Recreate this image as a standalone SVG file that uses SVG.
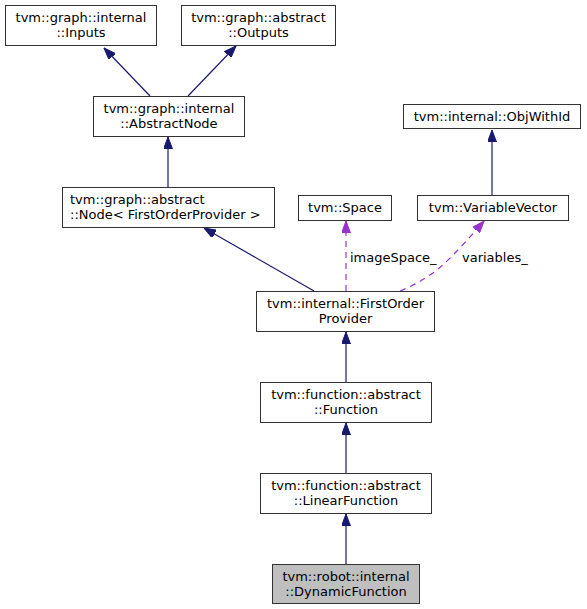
<svg xmlns="http://www.w3.org/2000/svg" width="587" height="609" viewBox="0 0 587 609">
<style>
  .box { fill: #ffffff; stroke: #333333; stroke-width: 1; }
  .cur { fill: #bfbfbf; stroke: #333333; stroke-width: 1; }
  text { font-family: "DejaVu Sans", sans-serif; font-size: 13px; fill: #000000; }
  .c { text-anchor: middle; }
  .inh { fill: none; stroke: #191970; stroke-width: 1.2; marker-end: url(#ah); }
  .use { fill: none; stroke: #9a32cd; stroke-width: 1.2; stroke-dasharray: 6,5; marker-end: url(#ahu); }
</style>
<defs>
  <marker id="ah" viewBox="0 0 12 9" refX="12" refY="4.5" markerWidth="12" markerHeight="9" markerUnits="userSpaceOnUse" orient="auto">
    <path d="M0,0 L12,4.5 L0,9 z" fill="#191970" stroke="#191970"/>
  </marker>
  <marker id="ahu" viewBox="0 0 12 9" refX="12" refY="4.5" markerWidth="12" markerHeight="9" markerUnits="userSpaceOnUse" orient="auto">
    <path d="M0,0 L12,4.5 L0,9 z" fill="#9a32cd" stroke="#9a32cd"/>
  </marker>
</defs>
<rect width="587" height="609" fill="#ffffff"/>
<g id="edges">
  <path class="inh" d="M150,96 L104,48"/>
  <path class="inh" d="M188,96 L236,46"/>
  <path class="inh" d="M168,187 L168,137"/>
  <path class="inh" d="M314,291 L204,228"/>
  <path class="use" d="M346,291 L346,221"/>
  <text x="350" y="262">imageSpace_</text>
  <path class="use" d="M400,291 C420,283 437,272 453,255 C462,246 471,236 484,221"/>
  <text x="462" y="262">variables_</text>
  <path class="inh" d="M492,195 L492,130"/>
  <path class="inh" d="M346,382 L346,332"/>
  <path class="inh" d="M346,473 L346,423"/>
  <path class="inh" d="M346,564 L346,514"/>
</g>
<g id="inputs">
  <rect class="box" x="5.5" y="5.5" width="151" height="40"/>
  <text class="c" x="81" y="21.5">tvm::graph::internal</text>
  <text class="c" x="81" y="36.5">::Inputs</text>
</g>
<g id="outputs">
  <rect class="box" x="181.5" y="5.5" width="154" height="40"/>
  <text class="c" x="258.5" y="21.5">tvm::graph::abstract</text>
  <text class="c" x="258.5" y="36.5">::Outputs</text>
</g>
<g id="abstractnode">
  <rect class="box" x="93.5" y="96.5" width="151" height="40"/>
  <text class="c" x="169" y="112.5">tvm::graph::internal</text>
  <text class="c" x="169" y="127.5">::AbstractNode</text>
</g>
<g id="objwithid">
  <rect class="box" x="403.5" y="104.5" width="177" height="24"/>
  <text class="c" x="492" y="120.5">tvm::internal::ObjWithId</text>
</g>
<g id="node">
  <rect class="box" x="62.5" y="187.5" width="212" height="40"/>
  <text x="70" y="203.5">tvm::graph::abstract</text>
  <text x="70" y="218.5">::Node&lt; FirstOrderProvider &gt;</text>
</g>
<g id="space">
  <rect class="box" x="298.5" y="195.5" width="93" height="25"/>
  <text class="c" x="345" y="211.5">tvm::Space</text>
</g>
<g id="variablevector">
  <rect class="box" x="417.5" y="195.5" width="151" height="25"/>
  <text class="c" x="493" y="211.5">tvm::VariableVector</text>
</g>
<g id="firstorder">
  <rect class="box" x="256.5" y="291.5" width="178" height="40"/>
  <text class="c" x="345.5" y="307.5">tvm::internal::FirstOrder</text>
  <text class="c" x="345.5" y="322.5">Provider</text>
</g>
<g id="function">
  <rect class="box" x="260.5" y="382.5" width="171" height="40"/>
  <text class="c" x="346" y="398.5">tvm::function::abstract</text>
  <text class="c" x="346" y="413.5">::Function</text>
</g>
<g id="linearfunction">
  <rect class="box" x="260.5" y="473.5" width="171" height="40"/>
  <text class="c" x="346" y="489.5">tvm::function::abstract</text>
  <text class="c" x="346" y="504.5">::LinearFunction</text>
</g>
<g id="dynamicfunction">
  <rect class="cur" x="272.5" y="564.5" width="147" height="39"/>
  <text class="c" x="346" y="580.5">tvm::robot::internal</text>
  <text class="c" x="346" y="595.5">::DynamicFunction</text>
</g>
</svg>
